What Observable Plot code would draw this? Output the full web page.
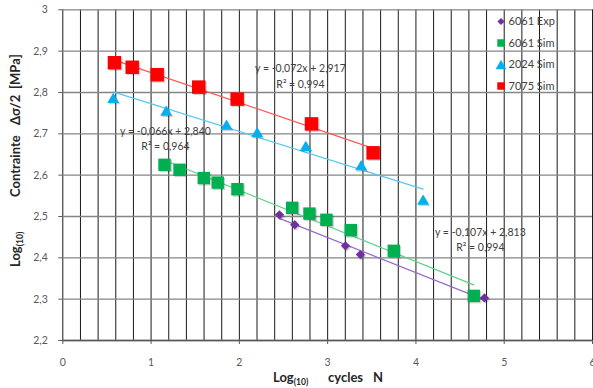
<!DOCTYPE html>
<html><head><meta charset="utf-8">
<script src="https://cdn.jsdelivr.net/npm/d3@7"></script>
<script src="https://cdn.jsdelivr.net/npm/@observablehq/plot@0.6"></script>
<style>
body{margin:0;background:#fff;}
#wrap{position:relative;width:593px;height:388px;overflow:hidden;}
svg text{white-space:pre;}
</style></head><body><div id="wrap"></div>
<script>
// ---- data ----
const seriesNames = ["6061 Exp", "6061 Sim", "2024 Sim", "7075 Sim"];
const exp6061X = [2.454, 2.627, 3.202, 3.371, 4.776];
const exp6061Y = [2.504, 2.480, 2.429, 2.408, 2.303];
const sim6061X = [1.152, 1.322, 1.597, 1.755, 1.978, 2.598, 2.794, 2.986, 3.262, 3.749, 4.655];
const sim6061Y = [2.625, 2.613, 2.593, 2.582, 2.566, 2.521, 2.507, 2.492, 2.467, 2.417, 2.308];
const sim2024X = [0.571, 1.171, 1.854, 2.201, 2.752, 3.379, 4.081];
const sim2024Y = [2.787, 2.756, 2.722, 2.704, 2.671, 2.624, 2.541];
const sim7075X = [0.585, 0.786, 1.069, 1.540, 1.975, 2.817, 3.515];
const sim7075Y = [2.872, 2.861, 2.843, 2.813, 2.784, 2.724, 2.654];
const xTicks = [0, 1, 2, 3, 4, 5, 6];
const yTicks = [2.2, 2.3, 2.4, 2.5, 2.6, 2.7, 2.8, 2.9, 3];
const eqTexts = ["y = -0,072x + 2,917\nR\u00b2 = 0,994", "y = -0,066x + 2,840\nR\u00b2 = 0,964", "y = -0,107x + 2,813\nR\u00b2 = 0,994"];
const yTitleWords = ["Contrainte", "\u0394\u03c3/2", "[MPa]"];
const xTitleWords = ["cycles", "N"];

// ---- build tables ----
const toRows = (xs, ys, s) => xs.map((x, i) => ({x, y: ys[i], series: s}));
const exp6061 = toRows(exp6061X, exp6061Y, seriesNames[0]);
const sim6061 = toRows(sim6061X, sim6061Y, seriesNames[1]);
const sim2024 = toRows(sim2024X, sim2024Y, seriesNames[2]);
const sim7075 = toRows(sim7075X, sim7075Y, seriesNames[3]);

// ---- custom symbols (centered on bounding box, like Excel markers) ----
const diamondSym = {draw(ctx, size) { const a = Math.sqrt(size / 2); ctx.moveTo(0, -a); ctx.lineTo(a, 0); ctx.lineTo(0, a); ctx.lineTo(-a, 0); ctx.closePath(); }};
const triSym = {draw(ctx, size) { const s = Math.sqrt(4 * size / Math.sqrt(3)); const h = s * Math.sqrt(3) / 2; ctx.moveTo(0, -h / 2); ctx.lineTo(s / 2, h / 2); ctx.lineTo(-s / 2, h / 2); ctx.closePath(); }};

const styles = [
  {data: exp6061, fill: "#7030A0", line: "#9966CC", symbol: diamondSym, r: 3.7},
  {data: sim6061, fill: "#00B050", line: "#5CD08A", symbol: "square", r: 7.0},
  {data: sim2024, fill: "#00B0F0", line: "#55C8F2", symbol: triSym, r: 4.4},
  {data: sim7075, fill: "#FF0000", line: "#FF5555", symbol: "square", r: 7.6}
];
const eqLabels = [
  {x: 2.692, y: 2.842, text: eqTexts[0]},
  {x: 1.163, y: 2.691, text: eqTexts[1]},
  {x: 4.730, y: 2.446, text: eqTexts[2]}
];

const fmt = d => String(+(+d).toFixed(1)).replace(".", ",");
const gridX = d3.range(0, 31).map(i => +(i * 0.2).toFixed(1));

const chart = Plot.plot({
  width: 593, height: 388,
  marginLeft: 62.3, marginRight: 1, marginTop: 9.3, marginBottom: 48,
  style: {fontFamily: "Lato, sans-serif", fontSize: "10.5px", color: "#595959", background: "white", overflow: "visible"},
  x: {domain: [0, 6]},
  y: {domain: [2.2, 3]},
  marks: [
    Plot.ruleX(gridX, {stroke: "#1a1a1a", strokeWidth: 1}),
    Plot.ruleY(yTicks, {stroke: "#858585", strokeWidth: 1.3}),
    Plot.ruleY([2.2], {stroke: "#595959", strokeWidth: 1.3}),
    Plot.axisX(xTicks, {anchor: "bottom", tickSize: 4, tickPadding: 14, tickFormat: d => String(d), label: null, stroke: "#595959", fill: "#595959"}),
    Plot.axisY(yTicks, {anchor: "left", tickSize: 4, tickPadding: 11, tickFormat: fmt, label: null, stroke: "#595959", fill: "#595959"}),
    ...styles.map(s => Plot.linearRegressionY(s.data, {x: "x", y: "y", stroke: s.line, strokeWidth: 1.2, ci: 0})),
    ...styles.map(s => Plot.dot(s.data, {x: "x", y: "y", symbol: s.symbol, r: s.r, fill: "#000", fillOpacity: 0.18, dx: 1.3, dy: 1.3, stroke: "none"})),
    ...styles.map(s => Plot.dot(s.data, {x: "x", y: "y", symbol: s.symbol, r: s.r, fill: s.fill, stroke: "none"})),
    Plot.text(eqLabels, {x: "x", y: "y", text: "text", lineHeight: 1.45, fill: "#404040", fontSize: 10.5, textAnchor: "middle"})
  ]
});

const svg = d3.select(chart);
// axis titles
const yt = svg.append("text").attr("transform", "translate(20,267) rotate(-90)").attr("text-anchor", "start")
  .attr("font-family", "Lato, sans-serif").attr("font-weight", "bold").attr("font-size", 13).attr("fill", "#262626");
yt.append("tspan").attr("x", 0).attr("y", 0).text("Log");
yt.append("tspan").attr("font-size", 8.5).attr("dy", 3).text("(10)");
[70, 142, 178].forEach((p, i) => yt.append("tspan").attr("x", p).attr("y", 0).text(yTitleWords[i]));

const xt = svg.append("text").attr("transform", "translate(273,382)").attr("text-anchor", "start")
  .attr("font-family", "Lato, sans-serif").attr("font-weight", "bold").attr("font-size", 13).attr("fill", "#262626");
xt.append("tspan").attr("x", 0).attr("y", 0).text("Log");
xt.append("tspan").attr("font-size", 8.5).attr("dy", 3).text("(10)");
[55, 100].forEach((p, i) => xt.append("tspan").attr("x", p).attr("y", 0).text(xTitleWords[i]));

// legend
const legendSizes = [26, 56, 50, 56];
const lg = svg.append("g").attr("text-anchor", "start");
styles.forEach((s, i) => {
  const y = 21.5 + i * 21.5;
  const sym = typeof s.symbol === "string" ? d3.symbolSquare : s.symbol;
  lg.append("path").attr("transform", `translate(501,${y})`).attr("d", d3.symbol(sym, legendSizes[i])()).attr("fill", s.fill);
  lg.append("text").attr("x", 508.5).attr("y", y).attr("dy", "0.35em")
    .attr("font-family", "Lato, sans-serif").attr("font-size", 11).attr("fill", "#404040").text(seriesNames[i]);
});

document.getElementById("wrap").appendChild(chart);
</script>
</body></html>
